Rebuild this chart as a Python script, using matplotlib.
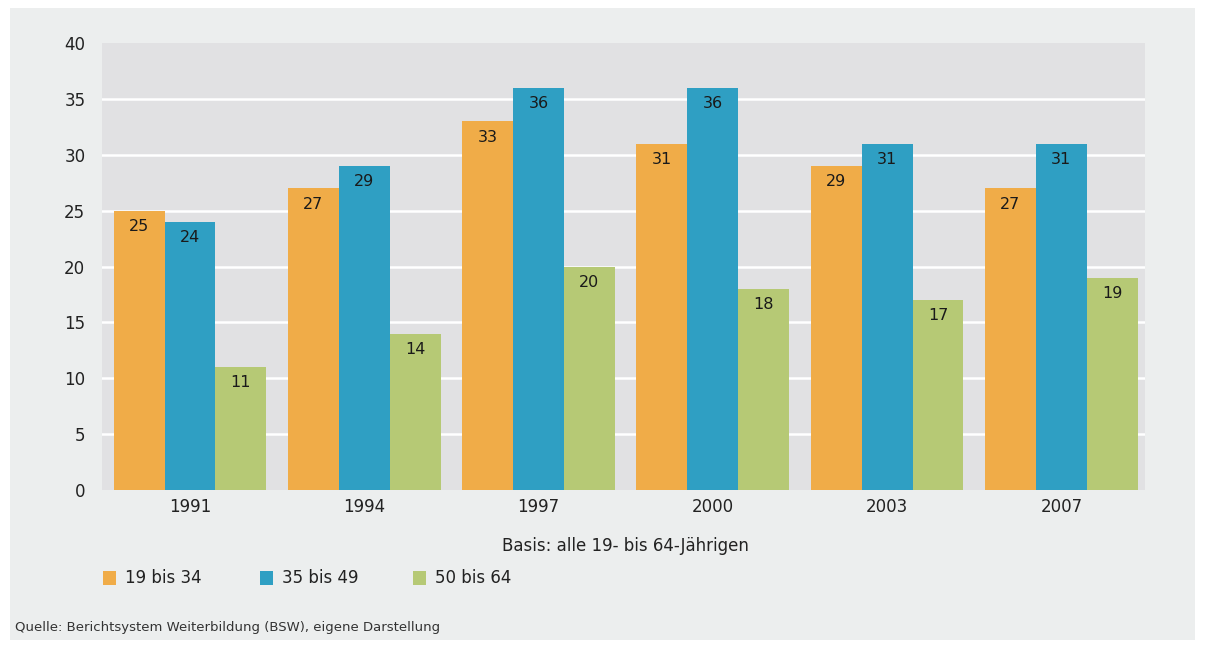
import numpy as np
import matplotlib.pyplot as plt
from matplotlib.patches import Rectangle

plt.rcParams['font.family'] = ['Liberation Sans Narrow', 'DejaVu Sans']

# Data
years = ['1991', '1994', '1997', '2000', '2003', '2007']
age_19_34 = [25, 27, 33, 31, 29, 27]
age_35_49 = [24, 29, 36, 36, 31, 31]
age_50_64 = [11, 14, 20, 18, 17, 19]
series_names = ['19 bis 34', '35 bis 49', '50 bis 64']
colors = ['#f0ac48', '#2f9fc3', '#b6c975']
y_ticks = [0, 5, 10, 15, 20, 25, 30, 35, 40]

fig = plt.figure(figsize=(12.09, 6.48), dpi=100)
fig.patch.set_facecolor('white')
# outer grey panel, behind the axes
fig.patches.append(Rectangle((10 / 1209, 8 / 648), 1185 / 1209, 632 / 648,
                             transform=fig.transFigure, facecolor='#eceeee',
                             edgecolor='none', zorder=-5))

ax = fig.add_axes([102 / 1209, 1 - 490 / 648, 1043 / 1209, 447 / 648])
ax.set_zorder(1)
ax.set_facecolor('#e1e1e3')

x = np.arange(len(years))
w = 0.292
for i, (vals, col) in enumerate(zip([age_19_34, age_35_49, age_50_64], colors)):
    bars = ax.bar(x + (i - 1) * w, vals, width=w, color=col, zorder=3,
                  label=series_names[i])
    for b, v in zip(bars, vals):
        ax.annotate(str(v), (b.get_x() + b.get_width() / 2, v),
                    xytext=(0, -6), textcoords='offset points',
                    ha='center', va='top', fontsize=11.5, color='#1a1a1a',
                    zorder=4)

# white grid lines (none at the very top)
for yv in y_ticks[1:-1]:
    ax.axhline(yv, color='white', linewidth=1.8, zorder=1)

ax.set_xlim(-0.505, 5.48)
ax.set_ylim(0, 40)
ax.set_yticks(y_ticks)
ax.set_xticks(x)
ax.set_xticklabels(years)
for s in ax.spines.values():
    s.set_visible(False)
ax.tick_params(axis='both', length=0, labelsize=12, colors='#222222')
ax.tick_params(axis='y', pad=12)
ax.tick_params(axis='x', pad=6)

fig.text(625 / 1209, 1 - 546 / 648, 'Basis: alle 19- bis 64-Jährigen',
         ha='center', va='center', fontsize=12, color='#222222')

# legend
leg_x = [103, 260, 413]
for lx, name, col in zip(leg_x, series_names, colors):
    fig.patches.append(Rectangle((lx / 1209, 1 - 585 / 648), 13 / 1209, 14 / 648,
                                 transform=fig.transFigure, facecolor=col,
                                 edgecolor='none'))
    fig.text((lx + 22) / 1209, 1 - 578 / 648, name, ha='left', va='center',
             fontsize=12, color='#222222')

fig.text(15 / 1209, 1 - 628 / 648,
         'Quelle: Berichtsystem Weiterbildung (BSW), eigene Darstellung',
         ha='left', va='center', fontsize=9.5, color='#333333')

plt.savefig('out.png', dpi=100)
